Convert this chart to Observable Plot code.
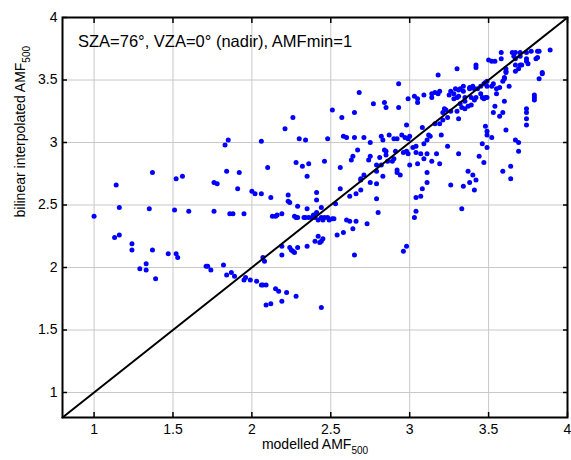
<!DOCTYPE html>
<html><head><meta charset="utf-8">
<script src="https://cdn.jsdelivr.net/npm/d3@7"></script>
<script src="https://cdn.jsdelivr.net/npm/@observablehq/plot@0.6"></script>
<style>html,body{margin:0;padding:0;background:#fff;} svg{display:block}</style>
</head><body><div id="chart"></div>
<script>
const xTicks = [1, 1.5, 2, 2.5, 3, 3.5, 4];
const yTicks = [1, 1.5, 2, 2.5, 3, 3.5, 4];
const axisDomain = [0.8, 4];
const annotation = "SZA=76°, VZA=0° (nadir), AMFmin=1";
const xTitle = "modelled AMF";
const yTitle = "bilinear interpolated AMF";
const titleSubscript = "500";

// [modelled AMF500, bilinear interpolated AMF500]
const amfPairs = [
[1.00,2.41],[1.14,2.66],[1.16,2.48],[1.13,2.24],[1.16,2.26],[1.24,2.19],[1.24,2.14],[1.37,2.76],[1.35,2.47],[1.37,2.14],
[1.29,1.99],[1.33,2.03],[1.33,1.98],[1.39,1.91],[1.52,2.71],[1.56,2.73],[1.51,2.46],[1.60,2.45],[1.47,2.11],[1.52,2.11],
[1.53,2.08],[1.76,2.68],[1.78,2.67],[1.76,2.45],[1.71,2.01],[1.72,2.01],[1.74,1.98],
[2.21,3.11],[2.06,3.01],[1.83,2.98],[1.85,3.02],[2.30,3.03],[2.34,3.02],[2.48,3.03],[2.28,2.84],[2.32,2.81],[2.36,2.83],
[2.46,2.85],[2.10,2.80],[2.35,2.73],[1.84,2.77],[1.92,2.76],[1.91,2.63],[2.00,2.61],[2.02,2.59],[2.06,2.59],[2.12,2.56],
[2.23,2.58],[2.23,2.53],[2.24,2.52],[2.29,2.49],[2.35,2.47],[2.41,2.60],[2.41,2.54],[2.41,2.44],[2.44,2.48],[1.86,2.43],
[1.88,2.43],[1.95,2.43],[2.13,2.41],[2.15,2.41],[2.16,2.42],[2.19,2.43],[2.27,2.41],[2.28,2.40],[2.29,2.40],[2.33,2.40],
[2.34,2.40],[2.36,2.40],[2.38,2.40],[2.39,2.42],[2.40,2.40],[2.42,2.38],[2.44,2.40],[2.45,2.38],[2.46,2.40],[2.48,2.40],[2.49,2.38],
[1.95,1.90],[1.96,1.92],[1.99,1.90],[2.03,1.89],[2.06,1.86],[2.07,1.86],[2.09,1.86],[2.15,1.83],[2.17,1.81],[2.22,1.80],
[2.19,1.73],[2.28,1.77],[2.09,1.70],[2.12,1.71],[2.44,1.68],[1.84,1.94],[1.87,1.96],[1.89,1.93],[1.82,2.02],[2.07,2.08],
[2.08,2.05],[2.19,2.10],[2.19,2.17],[2.24,2.16],[2.25,2.14],[2.26,2.13],[2.27,2.12],[2.29,2.16],[2.35,2.17],[2.40,2.21],
[2.42,2.25],[2.43,2.20],[2.44,2.21],[2.45,2.23],
[2.26,3.20],[2.51,3.26],[2.57,3.20],[2.65,3.24],[2.58,3.05],[2.60,3.04],[2.65,3.04],[2.71,3.04],[2.75,3.00],[2.77,3.31],
[2.84,3.32],[2.85,3.28],[2.93,3.28],[2.98,3.14],[2.82,3.05],[2.83,3.02],[2.87,3.06],[2.90,3.03],[2.92,3.03],[2.95,3.06],
[2.97,3.04],[2.99,3.03],[2.84,2.94],[2.85,2.93],[2.91,2.93],[2.96,2.92],[2.98,2.93],[2.99,2.91],[2.67,2.94],[2.64,2.89],
[2.63,2.86],[2.75,2.89],[2.74,2.86],[2.81,2.88],[2.79,2.82],[2.82,2.82],[2.85,2.90],[2.86,2.85],[2.89,2.85],[2.90,2.87],
[2.56,2.80],[2.71,2.74],[2.69,2.71],[2.69,2.70],[2.75,2.68],[2.79,2.77],[2.83,2.73],[2.79,2.67],[2.92,2.78],[2.92,2.76],
[2.94,2.74],[2.56,2.63],[2.69,2.62],[2.66,2.59],[2.62,2.57],[2.79,2.55],[2.53,2.51],[2.80,2.44],[2.52,2.39],[2.51,2.39],
[2.60,2.38],[2.62,2.37],[2.66,2.37],[2.73,2.35],[2.64,2.31],[2.58,2.28],[2.54,2.26],[2.65,2.10],[2.98,2.17],[2.96,2.13],
[2.93,3.47],[2.68,3.40],
[3.58,3.72],[3.65,3.72],[3.67,3.72],[3.70,3.72],[3.74,3.72],[3.77,3.73],[3.81,3.73],[3.82,3.73],[3.89,3.74],[3.66,3.69],
[3.67,3.67],[3.70,3.69],[3.74,3.65],[3.74,3.67],[3.81,3.68],[3.80,3.67],[3.50,3.66],[3.52,3.65],[3.54,3.65],[3.58,3.67],
[3.67,3.62],[3.70,3.62],[3.71,3.62],[3.75,3.63],[3.84,3.56],[3.84,3.55],[3.82,3.51],[3.67,3.57],[3.69,3.59],[3.61,3.59],
[3.61,3.56],[3.61,3.57],[3.60,3.52],[3.60,3.51],[3.59,3.49],[3.42,3.62],[3.42,3.60],[3.30,3.59],[3.18,3.54],[3.49,3.49],
[3.48,3.48],[3.52,3.45],[3.49,3.45],[3.53,3.47],[3.55,3.43],[3.57,3.44],[3.55,3.39],[3.49,3.36],[3.48,3.36],[3.47,3.35],
[3.43,3.43],[3.41,3.43],[3.38,3.43],[3.40,3.45],[3.38,3.44],[3.45,3.45],[3.47,3.47],[3.45,3.39],[3.46,3.36],[3.42,3.36],
[3.41,3.34],[3.39,3.36],[3.37,3.29],[3.35,3.27],[3.31,3.42],[3.32,3.43],[3.34,3.45],[3.34,3.41],[3.29,3.43],[3.28,3.39],
[3.26,3.41],[3.25,3.38],[3.30,3.36],[3.31,3.37],[3.28,3.35],[3.32,3.31],[3.33,3.28],[3.30,3.25],[3.35,3.33],[3.35,3.36],
[3.39,3.30],[3.19,3.41],[3.18,3.39],[3.16,3.40],[3.14,3.39],[3.14,3.36],[3.09,3.38],[3.03,3.37],[3.05,3.35],[2.99,3.35],
[3.05,3.32],[3.22,3.27],[3.23,3.26],[3.21,3.24],[3.26,3.25],[3.24,3.20],[3.31,3.19],[3.19,3.15],[3.16,3.15],[3.21,3.18],
[3.63,3.45],[3.60,3.33],[3.54,3.29],[3.53,3.24],[3.57,3.21],[3.59,3.24],[3.79,3.38],[3.79,3.36],[3.79,3.34],[3.74,3.27],
[3.74,3.24],[3.74,3.19],[3.74,3.14],[3.61,3.10],[3.48,3.13],[3.49,3.09],[3.49,3.06],[3.52,3.04],[3.46,2.99],[3.67,3.02],
[3.69,3.00],[3.00,3.05],[3.08,3.12],[3.12,3.06],[3.13,3.05],[3.20,3.06],[3.09,2.99],[3.11,3.02],
[3.02,2.96],[3.04,2.97],[3.04,2.92],[3.07,2.91],[3.09,2.87],[3.11,2.91],[3.17,2.91],[3.14,2.85],[3.19,2.83],[3.05,2.83],
[3.00,2.82],[3.11,2.76],[3.11,2.68],[3.08,2.63],[3.07,2.57],[3.04,2.56],[3.04,2.45],[3.03,2.40],[3.24,2.97],[3.31,2.91],
[3.26,2.66],[3.34,2.65],[3.33,2.47],[3.37,2.77],[3.40,2.74],[3.42,2.70],[3.38,2.68],[3.41,2.62],[3.44,2.89],[3.47,2.84],
[3.49,2.96],[3.69,2.93],[3.59,2.77],[3.64,2.81],[3.64,2.71]
];

const data = amfPairs.map(([m, b]) => ({modelled: m, interpolated: b}));
const diagonal = axisDomain.map(v => ({modelled: v, interpolated: v}));
const font = "'Liberation Sans', Arial, Helvetica, sans-serif";
const fmt = d => String(d);

const chart = Plot.plot({
  width: 571, height: 460,
  marginLeft: 62, marginRight: 4, marginTop: 17, marginBottom: 43,
  x: {domain: axisDomain},
  y: {domain: axisDomain},
  style: {fontFamily: font, fontSize: "14px", background: "white", color: "black", overflow: "visible"},
  marks: [
    Plot.gridX(xTicks, {stroke: "#c8c8c8", strokeOpacity: 1, strokeWidth: 1}),
    Plot.gridY(yTicks, {stroke: "#c8c8c8", strokeOpacity: 1, strokeWidth: 1}),
    Plot.dot(data, {x: "modelled", y: "interpolated", r: 2.5, fill: "#0000ff", stroke: null}),
    Plot.line(diagonal, {x: "modelled", y: "interpolated", stroke: "black", strokeWidth: 2}),
    Plot.frame({stroke: "black", strokeWidth: 2}),
    Plot.axisX(xTicks, {anchor: "bottom", tickSize: -5, fill: "none", label: null, strokeWidth: 1.5}),
    Plot.axisX(xTicks, {anchor: "top", tickSize: -5, fill: "none", label: null, strokeWidth: 1.5}),
    Plot.axisY(yTicks, {anchor: "left", tickSize: -5, fill: "none", label: null, strokeWidth: 1.5}),
    Plot.axisY(yTicks, {anchor: "right", tickSize: -5, fill: "none", label: null, strokeWidth: 1.5}),
    Plot.axisX(xTicks, {anchor: "bottom", tickSize: 0, tickPadding: 7, label: null, tickFormat: fmt, fontSize: 14}),
    Plot.axisY(yTicks, {anchor: "left", tickSize: 0, tickPadding: 5, label: null, tickFormat: fmt, fontSize: 14}),
    Plot.text([annotation], {frameAnchor: "top-left", dx: 15.5, dy: 29, textAnchor: "start", lineAnchor: "bottom", fontSize: 16.5}),
    Plot.text([xTitle], {frameAnchor: "bottom", dy: 31, lineAnchor: "bottom", fontSize: 14, ariaDescription: "x-title"}),
    Plot.text([yTitle], {frameAnchor: "left", dx: -38, rotate: -90, lineAnchor: "bottom", fontSize: 14, ariaDescription: "y-title"})
  ]
});

d3.select(chart).selectAll('g[aria-description="x-title"] text, g[aria-description="y-title"] text')
  .append("tspan").attr("font-size", 10).attr("dy", 5).text(titleSubscript);

document.getElementById("chart").appendChild(chart);
</script>
</body></html>
